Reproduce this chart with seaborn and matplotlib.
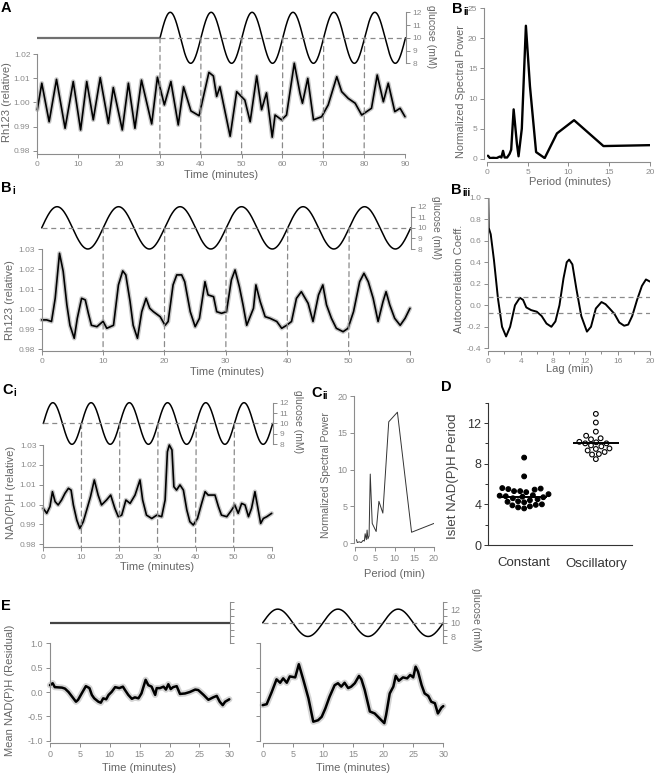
import numpy as np
import pandas as pd
import matplotlib
matplotlib.use("Agg")
import matplotlib.pyplot as plt
import seaborn as sns
from matplotlib.patches import ConnectionPatch

# ---------------- data ----------------
# glucose stimulus (sinusoid, mM / minutes)
glucose_mean = 10.0
glucose_amp = 2.0
glucose_period = 10.0

# A: Rh123 trace, 0-90 min
a_t = [0, 1.1, 2.9, 4.7, 6.8, 8.8, 10.6, 12.1, 13.7, 15.4, 17.4, 18.6, 20.8, 22.3, 23.9,
       25.5, 28.0, 29.4, 31.1, 32.7, 34.5, 35.8, 37.6, 39.6, 42.0, 43.1, 43.9, 44.7, 47.2,
       48.8, 50.0, 50.8, 52.1, 53.7, 54.9, 56.1, 57.5, 58.2, 59.8, 61.0, 62.9, 64.3, 64.9,
       66.2, 67.6, 69.6, 71.2, 73.3, 74.5, 76.1, 77.8, 79.4, 80.6, 81.8, 83.2, 84.7, 85.9,
       87.5, 88.8, 90]
a_v = [0.997, 1.008, 0.992, 1.0096, 0.9893, 1.0087, 0.9886, 1.0087, 0.9928, 1.0103, 0.9914,
       1.0062, 0.9886, 1.008, 0.9893, 1.0093, 0.9911, 1.0105, 0.999, 1.0087, 0.9907, 1.0065,
       0.9965, 0.9945, 1.0125, 1.011, 1.0025, 1.0065, 0.986, 1.0045, 1.0024, 1.001, 0.992,
       1.011, 0.997, 1.004, 0.9856, 0.9948, 0.9928, 0.9948, 1.0163, 1.0038, 0.9997, 1.010,
       0.9928, 0.9941, 0.999, 1.0107, 1.0045, 1.0017, 0.9997, 0.9948, 0.9962, 0.9976, 1.0114,
       1.0003, 1.008, 0.9962, 0.9976, 0.9941]

# Bi: Rh123 trace, 0-60 min
bi_t = [0, 0.8, 1.6, 2.2, 2.9, 3.5, 4.1, 4.6, 5.3, 5.8, 6.5, 7.1, 7.6, 8.1, 9.0, 10.0, 10.6,
        11.7, 12.5, 13.2, 13.7, 14.4, 14.9, 15.6, 16.3, 17.0, 17.6, 18.2, 19.3, 20.1, 20.6,
        21.4, 22.0, 22.8, 23.3, 24.2, 25.0, 25.7, 26.6, 27.1, 28.0, 28.5, 29.3, 30.1, 30.9,
        31.5, 32.2, 32.8, 33.4, 34.5, 34.9, 35.6, 36.4, 37.2, 38.3, 39.1, 39.9, 40.7, 41.5,
        42.3, 43.4, 44.2, 45.1, 45.8, 46.4, 47.2, 48.0, 49.1, 49.9, 50.8, 51.8, 52.5, 53.2,
        54.0, 54.8, 55.6, 56.1, 56.7, 57.5, 58.4, 59.2, 60.0]
bi_v = [0.9947, 0.9947, 0.9939, 1.0055, 1.028, 1.019, 1.0022, 0.992, 0.9855, 0.9955,
        1.0055, 1.0047, 0.998, 0.992, 0.9913, 0.994, 0.9905, 0.992, 1.0122, 1.0192,
        1.0172, 1.0038, 0.992, 0.9855, 0.9988, 1.0055, 1.0005, 0.9988, 0.9963, 0.992,
        0.9939, 1.0122, 1.0172, 1.0172, 1.0138, 0.9988, 0.9913, 0.9955, 1.0138, 1.0072,
        1.0063, 0.9988, 0.998, 0.9988, 1.0147, 1.0197, 1.0113, 1.0022, 0.992, 1.0005,
        1.0122, 1.0038, 0.9963, 0.9955, 0.9939, 0.9905, 0.992, 0.9939, 1.0055, 1.0088,
        1.003, 0.9939, 1.0072, 1.0122, 1.0022, 0.9955, 0.9905, 0.9888, 0.9905, 0.9988,
        1.0138, 1.018, 1.0138, 1.0055, 0.9939, 1.0038, 1.0088, 1.0022, 0.9955, 0.992,
        0.9955, 1.0005]

# Bii: spectral power vs period
bii_period = [0.15, 0.4, 0.8, 1.2, 1.6, 1.8, 2.0, 2.2, 2.5, 2.8, 3.0, 3.3, 3.7, 3.9, 4.3,
              4.8, 5.3, 6.05, 7.1, 8.6, 10.7, 14.3, 20.0]
bii_power = [0.5, 0.1, 0.15, 0.1, 0.35, 0.2, 1.3, 0.2, 0.2, 0.8, 1.5, 8.2, 2.5, 0.4, 5.0,
             22.1, 12.0, 1.1, 0.1, 4.2, 6.4, 2.1, 2.25]

# Biii: autocorrelation
biii_lag = [0, 0.05, 0.3, 0.7, 1.2, 1.7, 2.2, 2.7, 3.3, 3.9, 4.3, 4.7, 5.3, 6.0, 6.6, 7.2,
            7.8, 8.3, 8.8, 9.3, 9.7, 10.0, 10.4, 10.9, 11.5, 12.2, 12.7, 13.3, 14.0, 14.5,
            15.0, 15.6, 16.2, 16.8, 17.3, 17.8, 18.4, 19.0, 19.5, 20.0]
biii_ac = [1.0, 0.72, 0.66, 0.42, 0.06, -0.2, -0.29, -0.2, 0.0, 0.07, 0.05, -0.02, -0.045,
           -0.06, -0.1, -0.17, -0.2, -0.15, 0.0, 0.25, 0.4, 0.425, 0.38, 0.15, -0.1, -0.245,
           -0.2, -0.03, 0.03, 0.01, -0.03, -0.08, -0.16, -0.19, -0.18, -0.1, 0.05, 0.18,
           0.24, 0.22]
biii_sig = 0.075

# Ci: NAD(P)H trace
ci_t = [0, 0.9, 1.75, 2.4, 3.1, 3.9, 4.8, 5.7, 6.6, 7.3, 7.9, 8.8, 9.6, 10.5, 11.4, 12.4,
        13.4, 14.4, 15.3, 16.6, 17.7, 18.8, 19.7, 20.6, 21.7, 22.8, 24.1, 25.4, 26.1, 27.1,
        28.5, 29.8, 31.1, 32.0, 32.6, 33.1, 33.8, 34.3, 35.0, 35.9, 36.8, 37.7, 38.5, 39.4,
        40.5, 41.6, 42.5, 43.3, 44.2, 45.1, 46.0, 46.8, 48.2, 49.5, 50.3, 51.2, 52.1, 53.0,
        53.9, 54.7, 55.6, 56.3, 57.1, 57.8, 58.7, 60.0]
ci_v = [0.9981, 0.9956, 0.999, 1.0065, 1.0015, 0.9998, 1.0023, 1.0057, 1.0082, 1.0073,
        0.9998, 0.9922, 0.988, 0.9914, 0.9973, 1.004, 1.0124, 1.0048, 0.9998, 1.0023,
        1.0048, 0.9981, 0.9939, 0.9947, 1.0023, 1.0006, 1.0048, 1.0124, 1.0023, 0.9947,
        0.993, 0.9947, 0.9939, 1.0023, 1.0266, 1.03, 1.0275, 1.009, 1.0073, 1.0099,
        1.0073, 0.9973, 0.9914, 0.9897, 0.993, 1.0006, 1.0065, 1.0048, 1.0048, 1.0048,
        0.999, 0.9947, 0.9939, 0.9973, 0.9998, 0.9956, 1.0006, 0.9998, 0.9939, 0.9981,
        1.0065, 0.999, 0.9905, 0.993, 0.9939, 0.9956]

# Cii: spectral power
cii_period = [0.3, 0.5, 1.0, 1.5, 2.0, 2.3, 2.5, 2.8, 3.0, 3.2, 3.5, 3.8, 4.3, 5.3, 6.0,
              7.0, 8.5, 10.7, 14.3, 20.0]
cii_power = [0.5, 0.1, 0.2, 0.1, 0.4, 0.3, 1.3, 0.5, 1.8, 0.6, 1.0, 9.4, 2.7, 1.6, 5.7,
             4.1, 16.5, 17.8, 1.5, 2.7]

# D: islet NAD(P)H periods
d_constant = [8.6, 6.75, 5.6, 5.55, 5.5, 5.45, 5.3, 5.3, 5.2, 5.0, 4.9, 4.85, 4.8, 4.75,
              4.7, 4.6, 4.5, 4.4, 4.3, 4.25, 4.2, 4.0, 3.95, 3.9, 3.8, 3.7, 3.6]
d_oscillatory = [12.9, 12.05, 11.15, 10.75, 10.5, 10.4, 10.15, 10.1, 10.0, 10.0, 9.8, 9.7,
                 9.5, 9.45, 9.3, 9.15, 8.95, 8.9, 8.45]
d_categories = ["Constant", "Oscillatory"]

# E: mean NAD(P)H residual
e_t = [0, 0.45, 0.8, 2.0, 2.5, 3.1, 3.6, 4.35, 4.7, 5.3, 6.0, 6.6, 7.0, 7.4, 8.1, 8.5, 8.9,
       9.4, 9.8, 10.3, 10.9, 11.6, 12.2, 12.5, 13.1, 13.7, 14.2, 14.8, 15.3, 16.0, 16.45,
       17.0, 17.6, 17.85, 18.4, 19.0, 19.4, 19.8, 20.2, 20.6, 21.2, 21.75, 22.6, 23.4, 24.3,
       24.8, 25.7, 26.5, 27.3, 27.9, 28.4, 28.9, 29.3, 30]
e_const = [0.14, 0.18, 0.1, 0.09, 0.07, 0.0, -0.08, -0.2, -0.16, -0.03, 0.12, 0.08, -0.06,
           -0.13, -0.2, -0.22, -0.13, -0.15, -0.06, 0.0, 0.1, 0.08, 0.11, 0.05, -0.06, -0.14,
           -0.11, -0.13, -0.03, 0.25, 0.14, 0.11, -0.06, 0.08, 0.08, 0.11, 0.05, 0.16, 0.06,
           0.1, 0.12, -0.04, -0.03, 0.0, 0.05, 0.04, -0.06, -0.16, -0.11, -0.08, -0.2, -0.27,
           -0.2, -0.15]
eo_t = [0, 0.66, 1.5, 2.3, 2.9, 3.4, 4.0, 4.5, 5.4, 6.0, 6.75, 7.6, 8.4, 9.2, 9.8, 10.4,
        11.1, 11.95, 12.5, 13.05, 13.6, 14.2, 14.7, 15.3, 16.0, 16.4, 16.95, 17.8, 18.6,
        19.4, 20.2, 20.5, 21.1, 21.7, 22.1, 22.6, 23.3, 24.0, 24.5, 25.0, 25.4, 25.8, 26.4,
        26.9, 27.5, 28.0, 28.6, 29.1, 29.7, 30]
e_osc = [-0.27, -0.25, 0.0, 0.26, 0.19, 0.28, 0.19, 0.32, 0.3, 0.57, 0.25, -0.13, -0.61,
         -0.58, -0.51, -0.34, -0.1, 0.14, 0.18, 0.11, 0.19, 0.08, 0.11, 0.18, 0.33, 0.26,
         0.04, -0.4, -0.44, -0.54, -0.64, -0.47, -0.03, 0.11, 0.33, 0.23, 0.3, 0.28, 0.35,
         0.3, 0.52, 0.42, 0.14, -0.03, -0.08, -0.2, -0.23, -0.44, -0.32, -0.29]

# ---------------- style ----------------
sns.set_theme(style="ticks")
plt.rcParams["font.family"] = ["Liberation Sans", "DejaVu Sans"]
plt.rcParams["axes.unicode_minus"] = False

W, H = 656, 776
fig = plt.figure(figsize=(W / 100, H / 100), dpi=100)
fig.patch.set_facecolor("white")

SPINE = "#8c8c8c"
TICKLBL = "#8a8a8a"
LBL = "#666666"
DASH = "#8a8a8a"
TICK_FS = 6
LBL_FS = 8


def add_ax(x0, y0, x1, y1):
    return fig.add_axes([x0 / W, 1 - y1 / H, (x1 - x0) / W, (y1 - y0) / H])


def T(x, y, s, size=LBL_FS, rot=0, color=LBL, weight="normal", ha="center", va="center"):
    fig.text(x / W, 1 - y / H, s, fontsize=size, rotation=rot, color=color,
             fontweight=weight, ha=ha, va=va)


def letter(x, y, main, sub="", subdx=11.5):
    T(x, y, main, size=10.5, color="black", weight="bold", ha="left", va="center")
    if sub:
        T(x + subdx, y + 3, sub, size=7, color="black", weight="bold", ha="left",
          va="center")


def style(ax, left_out=0, bottom_out=0, fs=TICK_FS, tcol=TICKLBL):
    for s in ["top", "right"]:
        ax.spines[s].set_visible(False)
    for s in ["left", "bottom"]:
        ax.spines[s].set_color(SPINE)
        ax.spines[s].set_linewidth(0.8)
    ax.spines["left"].set_position(("outward", left_out * 0.72))
    ax.spines["bottom"].set_position(("outward", bottom_out * 0.72))
    ax.tick_params(which="both", colors=SPINE, labelcolor=tcol, labelsize=fs,
                   width=0.7, pad=2)
    ax.tick_params(which="major", length=3)
    ax.tick_params(which="minor", length=2)
    ax.set_facecolor("none")
    ax.set_xlabel("")
    ax.set_ylabel("")


def glucose_ax(x0, y0, x1, y1, xmax, ylim=(8, 12), ticks=(8, 9, 10, 11, 12),
               labels=None):
    g = add_ax(x0, y0, x1, y1)
    g.set_xlim(0, xmax)
    g.set_ylim(*ylim)
    for s in ["top", "left", "bottom"]:
        g.spines[s].set_visible(False)
    g.spines["right"].set_color(SPINE)
    g.spines["right"].set_linewidth(0.8)
    g.yaxis.tick_right()
    g.set_xticks([])
    g.set_yticks(list(ticks))
    if labels is not None:
        g.set_yticklabels(labels)
    g.tick_params(axis="y", colors=SPINE, labelcolor=TICKLBL, labelsize=TICK_FS,
                  length=3, width=0.7, pad=2)
    g.set_facecolor("none")
    return g


def trace(ax, t, v, lw_core=1.2, lw_band=3.2, band="#c8c8c8"):
    df = pd.DataFrame({"t": t, "v": v})
    sns.lineplot(data=df, x="t", y="v", ax=ax, estimator=None, sort=False,
                 color=band, lw=lw_band, clip_on=False)
    sns.lineplot(data=df, x="t", y="v", ax=ax, estimator=None, sort=False,
                 color="black", lw=lw_core, clip_on=False)


def sine(g, t0, t1, dashed=True, color="black"):
    tt = np.linspace(t0, t1, 600)
    gg = glucose_mean + glucose_amp * np.sin(2 * np.pi * (tt - t0) / glucose_period)
    sns.lineplot(x=tt, y=gg, ax=g, color=color, lw=1.1, estimator=None, sort=False,
                 clip_on=False)
    if dashed:
        g.plot([t0, t1], [glucose_mean, glucose_mean], color=DASH, lw=0.9,
               ls=(0, (4, 3)), clip_on=False)


def connectors(g, ax, xs):
    ymin = ax.get_ylim()[0]
    for x in xs:
        con = ConnectionPatch(xyA=(x, glucose_mean), coordsA=g.transData,
                              xyB=(x, ymin), coordsB=ax.transData,
                              color=DASH, lw=0.9, ls=(0, (4, 3)))
        fig.add_artist(con)


# ---------------- Panel A ----------------
axA = add_ax(37.3, 54.3, 405, 153.7)
trace(axA, a_t, a_v)
axA.set_xlim(0, 90)
axA.set_ylim(0.97875, 1.02)
axA.set_xticks(range(0, 91, 10))
axA.set_yticks([0.98, 0.99, 1.00, 1.01, 1.02])
axA.yaxis.set_major_formatter(matplotlib.ticker.FormatStrFormatter("%.2f"))
style(axA)
gA = glucose_ax(37.3, 12.3, 405.5, 63.3, 90)
gA.plot([0, 30], [glucose_mean, glucose_mean], color="#707070", lw=1.6)
sine(gA, 30, 90)
connectors(gA, axA, [30, 40, 50, 60, 70, 80])
T(221, 175, "Time (minutes)")
T(7, 102, "Rh123 (relative)", rot=90)
T(431, 37, "glucose (mM)", rot=270, size=7.5)
letter(1, 8, "A")

# ---------------- Panel Bii ----------------
axBii = add_ax(486.7, 8.3, 650, 158.7)
sns.lineplot(x=bii_period, y=bii_power, ax=axBii, color="black", lw=1.7,
             estimator=None, sort=False)
axBii.set_xlim(0, 20)
axBii.set_ylim(0, 25)
axBii.set_xticks([0, 5, 10, 15, 20])
axBii.set_yticks([0, 5, 10, 15, 20, 25])
style(axBii, left_out=2.4, bottom_out=3.6)
T(570, 182, "Period (minutes)")
T(461, 92, "Normalized Spectral Power", rot=90, size=7.8)
letter(452, 9, "B", "ii")

# ---------------- Panel Bi ----------------
axBi = add_ax(41.7, 249.3, 410, 350.7)
trace(axBi, bi_t, bi_v)
axBi.set_xlim(0, 60)
axBi.set_ylim(0.9793, 1.03)
axBi.set_xticks(range(0, 61, 10))
axBi.set_yticks([0.98, 0.99, 1.00, 1.01, 1.02, 1.03])
axBi.yaxis.set_major_formatter(matplotlib.ticker.FormatStrFormatter("%.2f"))
style(axBi)
gBi = glucose_ax(41.7, 206.7, 410.7, 249, 60)
sine(gBi, 0, 60)
connectors(gBi, axBi, [10, 20, 30, 40, 50])
T(227, 372, "Time (minutes)")
T(10, 300, "Rh123 (relative)", rot=90)
T(436, 228, "glucose (mM)", rot=270, size=7.5)
letter(1, 188, "B", "i")

# ---------------- Panel Biii ----------------
axBiii = add_ax(488.3, 197.7, 650, 348.3)
sns.lineplot(x=biii_lag, y=biii_ac, ax=axBiii, color="black", lw=1.4,
             estimator=None, sort=False)
for yv in (biii_sig, -biii_sig):
    axBiii.axhline(yv, color=DASH, lw=0.9, ls=(0, (4, 3)))
axBiii.set_xlim(0, 20)
axBiii.set_ylim(-0.4, 1.0)
axBiii.set_xticks([0, 4, 8, 12, 16, 20])
axBiii.set_xticks([2, 6, 10, 14, 18], minor=True)
axBiii.set_yticks(np.round(np.arange(-0.4, 1.01, 0.2), 1))
axBiii.yaxis.set_major_formatter(matplotlib.ticker.FormatStrFormatter("%.1f"))
style(axBiii, bottom_out=2.4)
T(570, 369, "Lag (min)")
T(459, 279, "Autocorrelation Coeff.", rot=90)
letter(451, 190, "B", "iii")

# ---------------- Panel Ci ----------------
axCi = add_ax(43.3, 445, 271.7, 546.7)
trace(axCi, ci_t, ci_v)
axCi.set_xlim(0, 60)
axCi.set_ylim(0.9788, 1.03)
axCi.set_xticks(range(0, 61, 10))
axCi.set_yticks([0.98, 0.99, 1.00, 1.01, 1.02, 1.03])
axCi.yaxis.set_major_formatter(matplotlib.ticker.FormatStrFormatter("%.2f"))
style(axCi)
gCi = glucose_ax(43.3, 402.7, 272.7, 444.3, 60)
sine(gCi, 0, 60)
connectors(gCi, axCi, [10, 20, 30, 40, 50])
T(157, 567, "Time (minutes)")
T(11, 492, "NAD(P)H (relative)", rot=90)
T(298, 422, "glucose (mM)", rot=270, size=7.5)
letter(2, 390, "C", "i")

# ---------------- Panel Cii ----------------
axCii = add_ax(355.3, 396, 434, 543.3)
sns.lineplot(x=cii_period, y=cii_power, ax=axCii, color="#333333", lw=0.7,
             estimator=None, sort=False)
axCii.set_xlim(0, 20)
axCii.set_ylim(0, 20)
axCii.set_xticks([0, 5, 10, 15, 20])
axCii.set_yticks([0, 5, 10, 15, 20])
style(axCii, left_out=1, bottom_out=3.4, fs=6.5)
T(395, 574, "Period (min)")
T(326, 475, "Normalized Spectral Power", rot=90, size=7.5)
letter(311, 393, "C", "ii")

# ---------------- Panel D ----------------
axD = add_ax(488.3, 402.7, 631.7, 545)
dfD = pd.DataFrame({
    "group": ["Constant"] * len(d_constant) + ["Oscillatory"] * len(d_oscillatory),
    "period": d_constant + d_oscillatory,
})
sns.swarmplot(data=dfD, x="group", y="period", hue="group", order=d_categories,
              palette={"Constant": "black", "Oscillatory": "white"}, edgecolor="black",
              linewidth=0.8, size=3.4, ax=axD, legend=False)
for i, cat in enumerate(d_categories):
    med = np.median(dfD.loc[dfD.group == cat, "period"])
    axD.hlines(med, i - 0.32, i + 0.32, color="black", lw=1.4, zorder=5)
axD.set_xlim(-0.5, 1.5)
axD.set_ylim(0, 14)
axD.set_yticks([0, 4, 8, 12])
axD.set_yticks([2, 6, 10, 14], minor=True)
style(axD, fs=9, tcol="#333333")
axD.spines["left"].set_color("#333333")
axD.spines["bottom"].set_color("#333333")
axD.tick_params(which="both", colors="#333333")
axD.tick_params(axis="x", length=0, labelsize=9.5, pad=9)
T(453, 476, "Islet NAD(P)H Period", size=9.5, rot=90, color="#444444")
letter(441, 387, "D")

# ---------------- Panel E ----------------
axE1 = add_ax(50, 643.3, 229.3, 740.7)
trace(axE1, e_t, e_const, lw_core=1.8, lw_band=4.5, band="#d4d4d4")
axE2 = add_ax(262.7, 643.3, 443.3, 740.7)
trace(axE2, eo_t, e_osc, lw_core=1.8, lw_band=4.5, band="#d4d4d4")
for ax in (axE1, axE2):
    ax.set_xlim(0, 30)
    ax.set_ylim(-1.0, 1.0)
    ax.set_xticks(range(0, 31, 5))
    ax.set_yticks([-1.0, -0.5, 0.0, 0.5, 1.0])
    ax.yaxis.set_major_formatter(matplotlib.ticker.FormatStrFormatter("%.1f"))
style(axE1, bottom_out=2.6, fs=6.5)
style(axE2, left_out=2.7, bottom_out=2.6, fs=6.5)
axE2.set_yticklabels([])
gE1 = glucose_ax(50, 602.3, 230, 643.3, 30, ylim=(7, 13), ticks=range(7, 14),
                 labels=[""] * 7)
gE1.plot([0, 30], [glucose_mean, glucose_mean], color="#444444", lw=1.6)
gE2 = glucose_ax(262.7, 602.3, 443.3, 643.3, 30, ylim=(7, 13), ticks=range(7, 14),
                 labels=["", "8", "", "10", "", "12", ""])
gE2.tick_params(axis="y", labelsize=6.5)
sine(gE2, 0, 30)
T(139, 768, "Time (minutes)")
T(353, 768, "Time (minutes)")
T(10, 690, "Mean NAD(P)H (Residual)", rot=90)
T(476, 620, "glucose (mM)", rot=270, size=7.5)
letter(1, 606, "E")

fig.savefig("out.png", dpi=100, facecolor="white")
